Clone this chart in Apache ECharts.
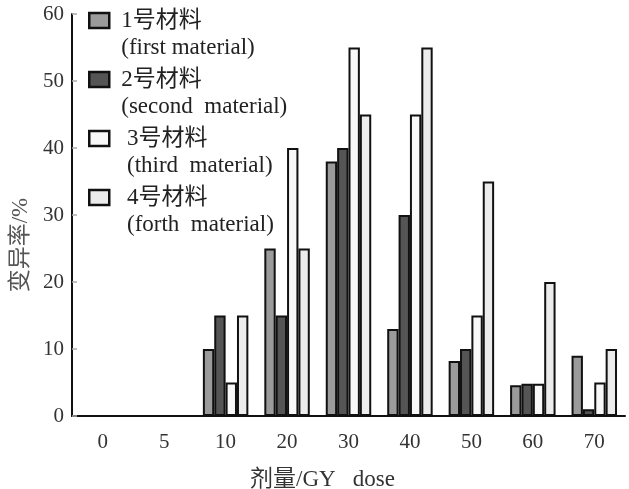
<!DOCTYPE html>
<html>
<head>
<meta charset="utf-8">
<script src="https://cdn.jsdelivr.net/npm/echarts@6/dist/echarts.min.js"></script>
<style>html,body{margin:0;padding:0;background:#fff;}#c{width:629px;height:489px;}</style>
</head>
<body>
<div id="c"></div>
<script>
var categories = ['0', '5', '10', '20', '30', '40', '50', '60', '70'];
var seriesNames = ['1号材料', '2号材料', '3号材料', '4号材料'];
var legendTexts = ['1号材料\n(first material)', '2号材料\n(second  material)', ' 3号材料\n (third  material)', ' 4号材料\n (forth  material)'];
var material1 = [0, 0, 10, 25, 38, 13, 8.2, 4.6, 9];
var material2 = [0, 0, 15, 15, 40, 30, 10, 4.8, 1];
var material3 = [0, 0, 5, 40, 55, 45, 15, 4.8, 5];
var material4 = [0, 0, 15, 25, 45, 55, 35, 20, 10];
var yTicks = [0, 10, 20, 30, 40, 50, 60];
var colors = ['#9b9b9b', '#555555', '#f8f8f8', '#ececec'];

var FONT = '"Liberation Serif", "Noto Sans CJK SC", serif';
var values = [material1, material2, material3, material4];
var chart = echarts.init(document.getElementById('c'), null, {renderer: 'canvas'});
chart.setOption({
  animation: false,
  backgroundColor: '#fff',
  grid: {left: 72, right: 4, top: 14, bottom: 73, containLabel: false, outerBoundsMode: 'none'},
  legend: {
    orient: 'vertical', left: 88, top: 7, padding: 0,
    itemWidth: 20, itemHeight: 42, itemGap: 5,
    icon: 'path://M0,0L20,0L20,15L0,15Z M20,42',
    data: seriesNames,
    formatter: function (n) { return legendTexts[seriesNames.indexOf(n)]; },
    textStyle: {fontFamily: FONT, fontSize: 23, lineHeight: 27, color: '#222', padding: [0, 0, 0, 7]},
    itemStyle: {borderColor: '#111', borderWidth: 2.5}
  },
  xAxis: {
    type: 'category', data: categories,
    name: '剂量/GY   dose', nameLocation: 'middle', nameGap: 52,
    nameTextStyle: {fontFamily: FONT, fontSize: 23, color: '#333', padding: [0, 52, 0, 0]},
    axisLine: {lineStyle: {color: '#111', width: 2}},
    axisTick: {inside: true, length: 8, lineStyle: {color: '#aaa', width: 1.5}},
    axisLabel: {fontFamily: FONT, fontSize: 21, color: '#333', margin: 16}
  },
  yAxis: {
    type: 'value', min: 0, max: 60, interval: 10,
    name: '变异率/%', nameLocation: 'middle', nameGap: 33,
    nameTextStyle: {fontFamily: FONT, fontSize: 23, color: '#555', padding: [0, 60, 0, 0]},
    axisLine: {show: true, lineStyle: {color: '#111', width: 2}},
    axisTick: {show: true, inside: true, length: 5, lineStyle: {color: '#aaa', width: 1.5}},
    splitLine: {show: false},
    axisLabel: {fontFamily: FONT, fontSize: 21, color: '#333', margin: 8,
      formatter: function (v) { return yTicks.indexOf(v) >= 0 ? String(v) : ''; }}
  },
  series: seriesNames.map(function (n, i) {
    return {
      name: n, type: 'bar', data: values[i],
      barGap: '0%', barCategoryGap: '26%',
      itemStyle: {color: colors[i], borderColor: '#111', borderWidth: 2}
    };
  })
});
</script>
</body>
</html>
